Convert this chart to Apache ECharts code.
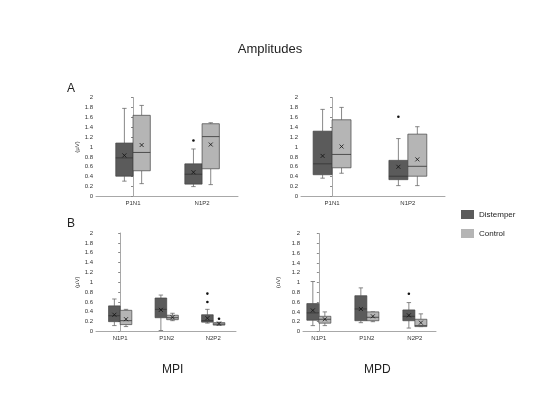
<!DOCTYPE html>
<html><head><meta charset="utf-8">
<script src="https://cdn.jsdelivr.net/npm/echarts@6/dist/echarts.min.js"></script>
<style>html,body{margin:0;padding:0;background:#fff}#c{width:540px;height:395px}</style>
</head><body><div id="c"></div>
<script>
const catsA = ['P1N1', 'N1P2'];
const catsB = ['N1P1', 'P1N2', 'N2P2'];
const yTicks = [0, 0.2, 0.4, 0.6, 0.8, 1, 1.2, 1.4, 1.6, 1.8, 2];
// each row: [whiskerLow, Q1, median, Q3, whiskerHigh, mean]
const mpiA_distemper = [[0.31, 0.41, 0.78, 1.08, 1.78, 0.83], [0.20, 0.25, 0.45, 0.66, 0.96, 0.49]];
const mpiA_control   = [[0.26, 0.52, 0.89, 1.64, 1.84, 1.04], [0.24, 0.56, 1.21, 1.47, 1.49, 1.05]];
const mpdA_distemper = [[0.37, 0.44, 0.66, 1.32, 1.76, 0.82], [0.22, 0.34, 0.41, 0.73, 1.17, 0.60]];
const mpdA_control   = [[0.47, 0.58, 0.85, 1.55, 1.80, 1.01], [0.22, 0.41, 0.61, 1.26, 1.41, 0.75]];
const mpiB_distemper = [[0.12, 0.20, 0.32, 0.52, 0.66, 0.34], [0.02, 0.28, 0.45, 0.68, 0.74, 0.44], [0.17, 0.19, 0.22, 0.34, 0.45, 0.27]];
const mpiB_control   = [[0.10, 0.14, 0.22, 0.43, 0.45, 0.25], [0.22, 0.24, 0.28, 0.33, 0.37, 0.29], [0.13, 0.13, 0.15, 0.18, 0.19, 0.16]];
const mpdB_distemper = [[0.12, 0.23, 0.38, 0.57, 1.02, 0.43], [0.18, 0.22, 0.46, 0.73, 0.89, 0.46], [0.07, 0.22, 0.31, 0.44, 0.59, 0.33]];
const mpdB_control   = [[0.12, 0.17, 0.25, 0.31, 0.40, 0.25], [0.20, 0.22, 0.29, 0.40, 0.40, 0.31], [0.10, 0.10, 0.12, 0.25, 0.36, 0.18]];
// outliers: [categoryIndex, value]
const mpiA_distemper_out = [[1, 1.13]];
const mpdA_distemper_out = [[1, 1.61]];
const mpiB_distemper_out = [[2, 0.77], [2, 0.60]];
const mpiB_control_out = [[2, 0.26]];
const mpdB_distemper_out = [[2, 0.77]];

const DIST_COLOR = '#5b5b5b', CTRL_COLOR = '#b5b5b5';
const BOXW = 0.25;
const FONT = 'Liberation Sans';

const panels = [
  {cats: catsA, dist: mpiA_distemper, ctrl: mpiA_control, dOut: mpiA_distemper_out, cOut: [], grid: {left: 96, top: 97.5, width: 142, height: 99}, xmin: -0.536, xmax: 1.52, yname: '(µV)', ygap: 11},
  {cats: catsA, dist: mpdA_distemper, ctrl: mpdA_control, dOut: mpdA_distemper_out, cOut: [], grid: {left: 301, top: 97.5, width: 144, height: 99}, xmin: -0.41, xmax: 1.49, yname: '', ygap: 11},
  {cats: catsB, dist: mpiB_distemper, ctrl: mpiB_control, dOut: mpiB_distemper_out, cOut: mpiB_control_out, grid: {left: 96, top: 233, width: 140, height: 98.5}, xmin: -0.52, xmax: 2.49, yname: '(µV)', ygap: 11},
  {cats: catsB, dist: mpdB_distemper, ctrl: mpdB_control, dOut: mpdB_distemper_out, cOut: [], grid: {left: 303, top: 233.5, width: 133, height: 98}, xmin: -0.33, xmax: 2.44, yname: '(uV)', ygap: 22}
];

function boxRender(side) {
  return function (params, api) {
    const cat = api.value(0);
    const c = api.coord([cat, 0])[0];
    const bw = api.size([BOXW, 0])[0];
    const x0 = side === 0 ? c - bw : c;
    const xm = x0 + bw / 2;
    const y = v => api.coord([cat, v])[1];
    const lo = api.value(1), q1 = api.value(2), md = api.value(3), q3 = api.value(4), hi = api.value(5), mn = api.value(6);
    const cap = 2.2, mk = 2;
    const lineStyle = {stroke: '#6a6a6a', lineWidth: 0.8};
    const children = [
      {type: 'line', shape: {x1: xm, y1: y(lo), x2: xm, y2: y(q1)}, style: lineStyle},
      {type: 'line', shape: {x1: xm, y1: y(q3), x2: xm, y2: y(hi)}, style: lineStyle},
      {type: 'line', shape: {x1: xm - cap, y1: y(lo), x2: xm + cap, y2: y(lo)}, style: lineStyle},
      {type: 'line', shape: {x1: xm - cap, y1: y(hi), x2: xm + cap, y2: y(hi)}, style: lineStyle},
      {type: 'rect', shape: {x: x0, y: y(q3), width: bw, height: y(q1) - y(q3)}, style: {fill: api.visual('color'), stroke: '#444', lineWidth: 0.7}},
      {type: 'line', shape: {x1: x0, y1: y(md), x2: x0 + bw, y2: y(md)}, style: {stroke: '#333', lineWidth: 0.8}},
      {type: 'line', shape: {x1: xm - mk, y1: y(mn) - mk, x2: xm + mk, y2: y(mn) + mk}, style: {stroke: '#111', lineWidth: 0.8}},
      {type: 'line', shape: {x1: xm - mk, y1: y(mn) + mk, x2: xm + mk, y2: y(mn) - mk}, style: {stroke: '#111', lineWidth: 0.8}}
    ];
    return {type: 'group', children};
  };
}
function outRender(side) {
  return function (params, api) {
    const cat = api.value(0);
    const c = api.coord([cat, 0])[0];
    const bw = api.size([BOXW, 0])[0];
    const xm = (side === 0 ? c - bw : c) + bw / 2;
    const yy = api.coord([cat, api.value(1)])[1];
    return {type: 'circle', shape: {cx: xm, cy: yy, r: 1.3}, style: {fill: '#111'}};
  };
}

const grids = [], xAxes = [], yAxes = [], series = [];
panels.forEach((p, i) => {
  grids.push(Object.assign({containLabel: false}, p.grid));
  xAxes.push({
    type: 'value', gridIndex: i, min: p.xmin, max: p.xmax,
    axisLine: {show: true, lineStyle: {color: '#a8a8a8', width: 1}},
    axisTick: {show: false}, splitLine: {show: false},
    axisLabel: {
      customValues: p.cats.map((_, k) => k),
      formatter: v => p.cats[Math.round(v)] || '',
      fontSize: 6, color: '#333', margin: 4, fontFamily: FONT
    }
  });
  yAxes.push({
    type: 'value', gridIndex: i, min: 0, max: 2, interval: 0.2,
    name: p.yname, nameLocation: 'middle', nameGap: p.ygap, nameRotate: 90,
    nameTextStyle: {fontSize: 6, color: '#333', fontFamily: FONT},
    axisLine: {show: true, lineStyle: {color: '#a8a8a8', width: 1}},
    axisTick: {show: true, length: 2, lineStyle: {color: '#888'}},
    splitLine: {show: false},
    axisLabel: {fontSize: 6, color: '#333', margin: 3, fontFamily: FONT, formatter: v => String(+v.toFixed(1))}
  });
  const toData = arr => arr.map((r, k) => [k].concat(r));
  series.push({type: 'custom', name: 'Distemper', xAxisIndex: i, yAxisIndex: i, clip: false,
    itemStyle: {color: DIST_COLOR}, renderItem: boxRender(0), data: toData(p.dist), encode: {x: 0, y: [1, 2, 3, 4, 5]}, silent: true});
  series.push({type: 'custom', name: 'Control', xAxisIndex: i, yAxisIndex: i, clip: false,
    itemStyle: {color: CTRL_COLOR}, renderItem: boxRender(1), data: toData(p.ctrl), encode: {x: 0, y: [1, 2, 3, 4, 5]}, silent: true});
  if (p.dOut.length) series.push({type: 'custom', xAxisIndex: i, yAxisIndex: i, clip: false, renderItem: outRender(0), data: p.dOut, encode: {x: 0, y: 1}, silent: true});
  if (p.cOut.length) series.push({type: 'custom', xAxisIndex: i, yAxisIndex: i, clip: false, renderItem: outRender(1), data: p.cOut, encode: {x: 0, y: 1}, silent: true});
});

const chart = echarts.init(document.getElementById('c'), null, {renderer: 'canvas'});
chart.setOption({
  animation: false,
  backgroundColor: '#fff',
  title: [
    {text: 'Amplitudes', left: 'center', top: 38, textStyle: {fontSize: 13, fontWeight: 'normal', color: '#222', fontFamily: FONT}},
    {text: 'A', left: 62, top: 78, textStyle: {fontSize: 12, fontWeight: 'normal', color: '#222', fontFamily: FONT}},
    {text: 'B', left: 62, top: 213, textStyle: {fontSize: 12, fontWeight: 'normal', color: '#222', fontFamily: FONT}},
    {text: 'MPI', left: 157, top: 359, textStyle: {fontSize: 12, fontWeight: 'normal', color: '#222', fontFamily: FONT}},
    {text: 'MPD', left: 359, top: 359, textStyle: {fontSize: 12, fontWeight: 'normal', color: '#222', fontFamily: FONT}}
  ],
  legend: {
    data: ['Distemper', 'Control'], orient: 'vertical', left: 456, top: 205,
    itemWidth: 13, itemHeight: 9, itemGap: 10, icon: 'rect',
    textStyle: {fontSize: 8, color: '#222', fontFamily: FONT}, selectedMode: false
  },
  grid: grids, xAxis: xAxes, yAxis: yAxes, series: series
});
</script></body></html>
